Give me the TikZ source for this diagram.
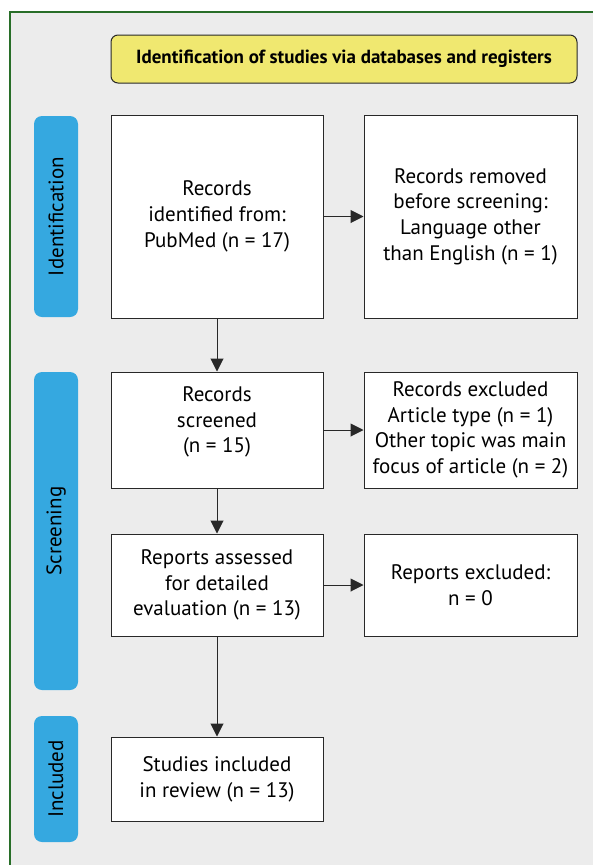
\documentclass[tikz,border=0pt]{standalone}
\usepackage{fontspec}
\setmainfont{PT Sans}
\usetikzlibrary{arrows.meta}

\definecolor{panelgray}{RGB}{236,236,236}
\definecolor{panelgreen}{RGB}{40,110,40}
\definecolor{headyellow}{RGB}{240,232,112}
\definecolor{phaseblue}{RGB}{53,168,224}
\definecolor{boxline}{RGB}{40,40,40}

\begin{document}
\begin{tikzpicture}[
    x=1pt, y=-1pt,
    font=\fontsize{21}{25.7}\selectfont,
    header/.style={draw=boxline, line width=1pt, rectangle, rounded corners=7pt,
                   fill=headyellow, minimum width=466pt, minimum height=48pt,
                   font=\fontsize{19}{22}\selectfont\bfseries},
    phase/.style={rectangle, rounded corners=8pt, fill=phaseblue, rotate=90,
                  minimum height=44pt, inner sep=0pt},
    stage/.style={draw=boxline, line width=1pt, rectangle, fill=white,
                  align=center, inner sep=2pt},
    arr/.style={-{Triangle[length=13pt, width=13pt]}, line width=1pt, boxline},
  ]

  %% background panel
  \useasboundingbox (0,0) rectangle (593,865);
  \fill[panelgray] (10,12) rectangle (600,870);
  \draw[panelgreen, line width=1.2pt] (10,870) -- (10,12) -- (600,12);

  %% header
  \node[header] (head) at (344,59)
    {Identification of studies via databases and registers};

  %% phase bars
  \node[phase, minimum width=201pt] (pId)  at (56,216.5) {Identification};
  \node[phase, minimum width=318pt] (pScr) at (56,531)   {Screening};
  \node[phase, minimum width=126pt] (pInc) at (56,779)   {Included};

  %% left column
  \node[stage, minimum width=212pt, minimum height=203pt] (ident)  at (217,216.5)
    {Records\\identified from:\\PubMed (n = 17)};
  \node[stage, minimum width=212pt, minimum height=116pt] (screen) at (217,430)
    {Records\\screened\\(n = 15)\\[-5pt]};
  \node[stage, minimum width=212pt, minimum height=102pt] (assess) at (217,585)
    {Reports assessed\\for detailed\\evaluation (n = 13)};
  \node[stage, minimum width=212pt, minimum height=84pt]  (incl)   at (217,779)
    {Studies included\\in review (n = 13)};

  %% right column
  \node[stage, minimum width=213pt, minimum height=203pt] (remov)  at (470.5,216.5)
    {Records removed\\before screening:\\Language other\\than English (n = 1)};
  \node[stage, minimum width=213pt, minimum height=116pt] (exclR)  at (470.5,430)
    {Records excluded\\Article type (n = 1)\\Other topic was main\\focus of article (n = 2)};
  \node[stage, minimum width=213pt, minimum height=102pt] (exclA)  at (470.5,585)
    {Reports excluded:\\n = 0};

  %% connectors
  \draw[arr] (ident)  -- (screen);
  \draw[arr] (screen) -- (assess);
  \draw[arr] (assess) -- (incl);
  \draw[arr] (ident)  -- (remov);
  \draw[arr] (screen) -- (exclR);
  \draw[arr] (assess) -- (exclA);

\end{tikzpicture}
\end{document}
